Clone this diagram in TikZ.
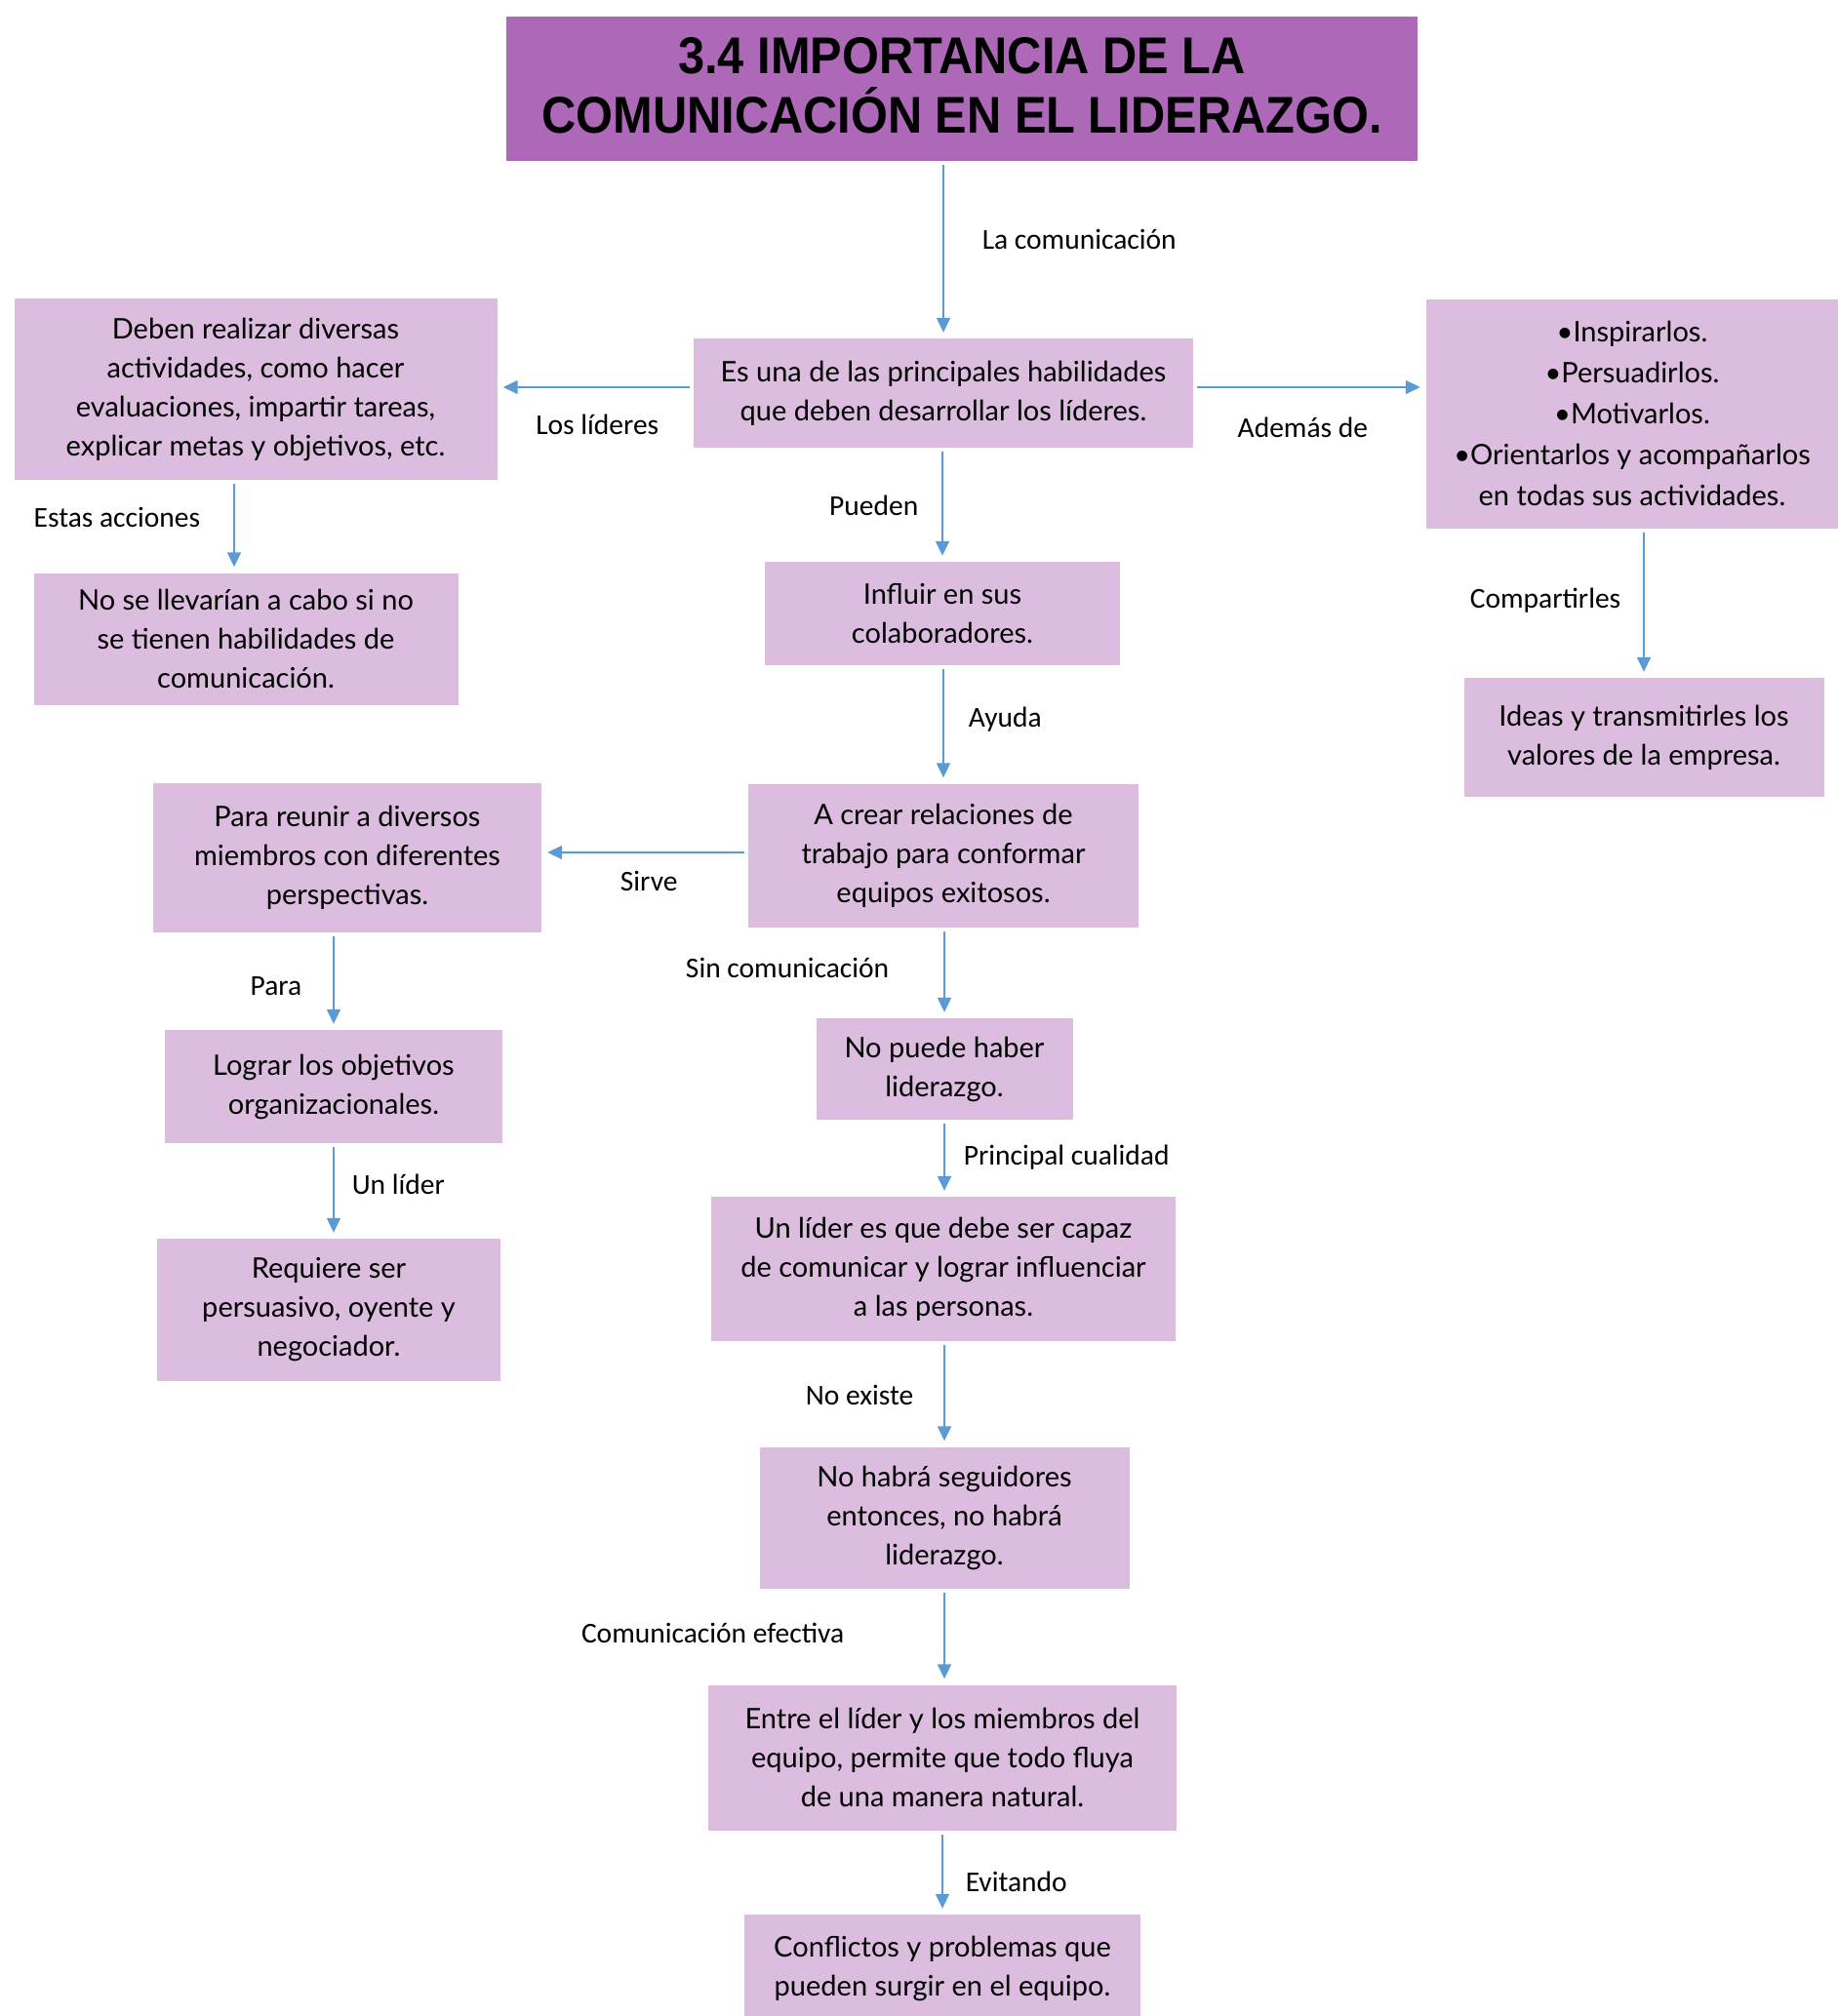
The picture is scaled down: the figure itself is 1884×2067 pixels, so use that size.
\documentclass[tikz,border=0pt]{standalone}
\usepackage{fontspec}
\setmainfont{Lato}
\newfontfamily\etiqfont{Carlito}
\newfontfamily\titlefont[FakeStretch=0.92]{Liberation Sans}
\usetikzlibrary{arrows.meta}
\definecolor{moradot}{HTML}{AD69B8}
\definecolor{moradoc}{HTML}{DCBDE0}
\definecolor{azulf}{HTML}{5B9BD5}

\begin{document}
\begin{tikzpicture}[x=1pt, y=-1pt,
    caja/.style={fill=moradoc, inner sep=0pt, align=center, font=\fontsize{29}{40}\selectfont},
    flecha/.style={azulf, line width=1.5pt, -{Triangle[length=15pt,width=14pt]}, shorten <=4pt, shorten >=6pt},
    etiq/.style={inner sep=0pt, text=black, font=\etiqfont\fontsize{29.5}{34}\selectfont}]
\useasboundingbox (0,0) rectangle (1884,2067);
\node[fill=moradot, minimum width=934pt, minimum height=148pt, align=center, font=\titlefont\bfseries\fontsize{53}{61}\selectfont] (titulo) at (986,91) {3.4 IMPORTANCIA DE LA\\COMUNICACIÓN EN EL LIDERAZGO.\rule[-8pt]{0pt}{8pt}};
\node[caja, minimum width=512pt, minimum height=112pt] (es) at (967,403) {Es una de las principales habilidades\\que deben desarrollar los líderes.};
\node[caja, minimum width=495pt, minimum height=186pt] (izq) at (262,399) {Deben realizar diversas\\actividades, como hacer\\evaluaciones, impartir tareas,\\explicar metas y objetivos, etc.};
\node[caja, minimum width=422pt, minimum height=235pt, font=\fontsize{29}{42}\selectfont] (der) at (1673,424) {•Inspirarlos.\\•Persuadirlos.\\•Motivarlos.\\•Orientarlos y acompañarlos\\en todas sus actividades.};
\node[caja, minimum width=435pt, minimum height=135pt] (nose) at (252,655) {No se llevarían a cabo si no\\se tienen habilidades de\\comunicación.};
\node[caja, minimum width=364pt, minimum height=106pt] (influir) at (966,629) {Influir en sus\\colaboradores.};
\node[caja, minimum width=369pt, minimum height=122pt] (ideas) at (1685,756) {Ideas y transmitirles los\\valores de la empresa.};
\node[caja, minimum width=400pt, minimum height=147pt] (crear) at (967,877) {A crear relaciones de\\trabajo para conformar\\equipos exitosos.};
\node[caja, minimum width=398pt, minimum height=153pt] (reunir) at (356,879) {Para reunir a diversos\\miembros con diferentes\\perspectivas.};
\node[caja, minimum width=263pt, minimum height=104pt] (nopuede) at (968,1096) {No puede haber\\liderazgo.};
\node[caja, minimum width=346pt, minimum height=116pt] (lograr) at (342,1114) {Lograr los objetivos\\organizacionales.};
\node[caja, minimum width=476pt, minimum height=148pt] (unlider) at (967,1301) {Un líder es que debe ser capaz\\de comunicar y lograr influenciar\\a las personas.};
\node[caja, minimum width=352pt, minimum height=146pt] (requiere) at (337,1343) {Requiere ser\\persuasivo, oyente y\\negociador.};
\node[caja, minimum width=379pt, minimum height=145pt] (nohabra) at (968,1556) {No habrá seguidores\\entonces, no habrá\\liderazgo.};
\node[caja, minimum width=480pt, minimum height=149pt] (entre) at (966,1802) {Entre el líder y los miembros del\\equipo, permite que todo fluya\\de una manera natural.};
\node[caja, minimum width=406pt, minimum height=110pt] (conflictos) at (966,2018) {Conflictos y problemas que\\pueden surgir en el equipo.};

\draw[flecha] (titulo.south -| es.north) -- node[etiq, pos=.44, anchor=west, xshift=39pt] {La comunicación} (es.north);
\draw[flecha] ([yshift=6pt]es.west) -- node[etiq, pos=.49, yshift=-38pt] {Los líderes} ([yshift=6pt]es.west -| izq.east);
\draw[flecha] ([yshift=6pt]es.east) -- node[etiq, pos=.47, yshift=-41pt] {Además de} ([yshift=6pt]es.east -| der.west);
\draw[flecha] ([xshift=-22pt]izq.south) -- node[etiq, pos=.4, anchor=east, xshift=-34pt] {Estas acciones} ([xshift=-22pt]izq.south |- nose.north);
\draw[flecha] (es.south -| influir.north) -- node[etiq, pos=.51, anchor=east, xshift=-24pt] {Pueden} (influir.north);
\draw[flecha] (der.south -| ideas.north) -- node[etiq, pos=.48, anchor=east, xshift=-23pt] {Compartirles} (ideas.north);
\draw[flecha] (influir.south -| crear.north) -- node[etiq, pos=.46, anchor=west, xshift=25pt] {Ayuda} (crear.north);
\draw[flecha] ([yshift=3pt]crear.west) -- node[etiq, pos=.48, yshift=-29pt] {Sirve} ([yshift=3pt]crear.west -| reunir.east);
\draw[flecha] (crear.south -| nopuede.north) -- node[etiq, pos=.45, anchor=east, xshift=-56pt] {Sin comunicación} (nopuede.north);
\draw[flecha] (reunir.south -| lograr.north) -- node[etiq, pos=.55, anchor=east, xshift=-32pt] {Para} (lograr.north);
\draw[flecha] (lograr.south) -- node[etiq, pos=.43, anchor=west, xshift=18pt] {Un líder} (lograr.south |- requiere.north);
\draw[flecha] (nopuede.south) -- node[etiq, pos=.49, anchor=west, xshift=19pt] {Principal cualidad} (nopuede.south |- unlider.north);
\draw[flecha] (unlider.south -| nohabra.north) -- node[etiq, pos=.51, anchor=east, xshift=-31pt] {No existe} (nohabra.north);
\draw[flecha] (nohabra.south) -- node[etiq, pos=.46, anchor=east, xshift=-102pt] {Comunicación efectiva} (nohabra.south |- entre.north);
\draw[flecha] (entre.south -| conflictos.north) -- node[etiq, pos=.61, anchor=west, xshift=23pt] {Evitando} (conflictos.north);
\end{tikzpicture}
\end{document}
